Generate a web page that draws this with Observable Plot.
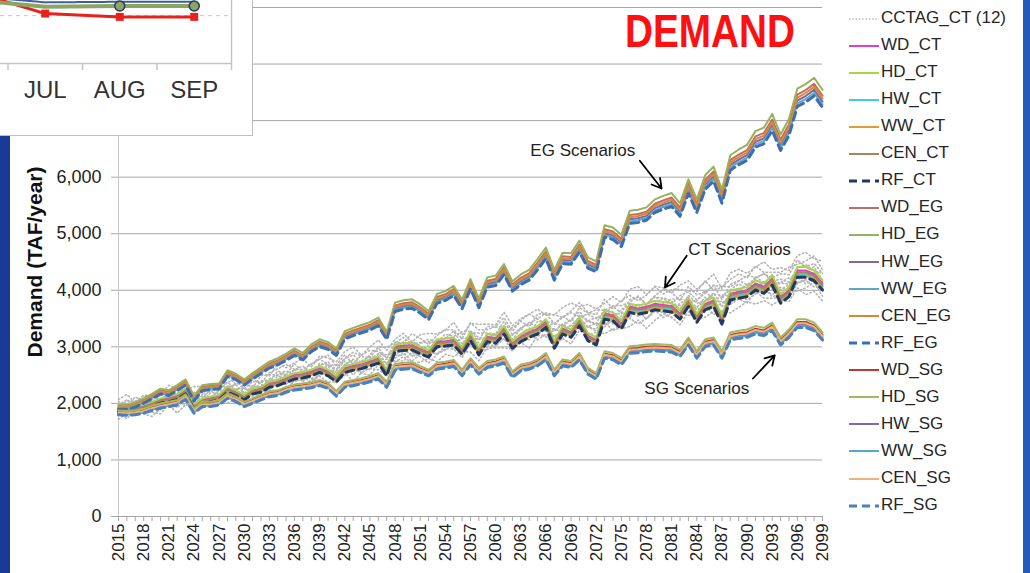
<!DOCTYPE html>
<html><head><meta charset="utf-8">
<script src="https://cdn.jsdelivr.net/npm/d3@7"></script>
<script src="https://cdn.jsdelivr.net/npm/@observablehq/plot@0.6"></script>
<style>
html,body{margin:0;padding:0;background:#fff;}
#wrap{position:relative;width:1030px;height:573px;overflow:hidden;background:#fff;font-family:Arial,"Liberation Sans",sans-serif;}
#wrap svg{font-family:Arial,"Liberation Sans",sans-serif;}
.abs{position:absolute;}
.lg{position:absolute;left:848px;height:20px;line-height:20px;font-size:17px;color:#262626;white-space:nowrap;}
.lg svg{vertical-align:middle;margin-right:1px;}
</style></head><body><div id="wrap"></div><script>
// ---------- data ----------
const years = d3.range(2015, 2100);
const labelYears = d3.range(2015, 2100, 3);
const yGrid = d3.range(0, 10000, 1000);
const yLabels = d3.range(0, 7000, 1000);

const egBase = [1950,1950,1990,2060,2140,2230,2200,2290,2390,2100,
 2290,2310,2320,2550,2490,2390,2500,2600,2700,2760,
 2840,2930,2850,3000,3090,3040,2930,3230,3290,3340,
 3390,3470,3220,3730,3770,3790,3700,3580,3880,3930,
 4020,3780,4140,3800,4170,4200,4400,4100,4220,4300,
 4490,4690,4300,4600,4590,4810,4520,4450,5080,5040,
 4910,5330,5350,5390,5530,5590,5640,5460,5880,5530,
 5950,6100,5700,6300,6400,6480,6720,6780,7020,6660,
 6930,7460,7540,7650,7440];
const ctBase = [1900,1880,1910,1950,2000,2060,2090,2130,2230,1950,
 2060,2090,2120,2260,2200,2120,2230,2260,2350,2380,
 2440,2500,2520,2560,2620,2560,2450,2620,2660,2690,
 2740,2790,2560,3000,3020,3030,2960,2900,3090,3100,
 3120,2950,3200,2940,3180,3150,3320,3060,3180,3260,
 3320,3440,3060,3320,3260,3470,3200,3120,3590,3560,
 3410,3710,3680,3710,3760,3740,3720,3590,3820,3530,
 3760,3820,3500,3940,3970,4000,4120,4060,4210,3880,
 4000,4350,4350,4290,4120];
const sgBase = [1850,1840,1850,1880,1930,1970,2000,2030,2130,1880,
 2000,2000,2030,2150,2090,2000,2060,2120,2180,2200,
 2260,2300,2320,2340,2380,2330,2190,2350,2380,2410,
 2450,2500,2350,2660,2680,2690,2620,2560,2680,2700,
 2730,2560,2760,2590,2710,2740,2790,2530,2650,2680,
 2740,2850,2560,2740,2710,2850,2590,2500,2880,2850,
 2760,2970,2980,3000,3010,3000,2990,2910,3120,2880,
 3090,3120,2880,3210,3240,3260,3320,3290,3380,3120,
 3260,3440,3440,3380,3210];
const cctagTrend = [1900,1920,1940,1970,2000,2040,2070,2100,2150,2080,
 2120,2160,2190,2260,2260,2250,2300,2340,2390,2420,
 2460,2510,2540,2570,2620,2620,2590,2660,2700,2730,
 2770,2820,2780,2930,2960,2980,2970,2960,3050,3080,
 3110,3060,3160,3110,3180,3200,3280,3220,3270,3310,
 3360,3430,3330,3420,3430,3500,3440,3430,3590,3600,
 3570,3690,3700,3730,3770,3780,3790,3760,3860,3790,
 3870,3910,3830,3990,4020,4050,4120,4110,4180,4080,
 4130,4280,4300,4290,4220];
const cctagScale = [0.92,0.94,0.955,0.965,0.975,0.985,0.995,1.005,1.02,1.035,1.05,1.07];
const cctagJitterA = [2,-1,3,0,-2,1,2,-3,0,1,-1,3,2,-2,0,1,-3,2,1,0,-1,3,-2,1,2,-1,0,3,-3,1,2,0,-2,1,3,-1,0,2,-2,1,-1,3,0,-3,2,1,-1,0,2,-2,3,1,-1,0,-3,2,1,3,-2,0,1,-1,2,-3,0,3,1,-2,2,0,-1,1,3,-2,0,2,-1,1,-3,2,0,3,-1,1,-2];
const cctagJitterB = [-2,1,0,2,-1,-3,1,2,3,-1,0,-2,1,3,-1,2,0,-3,1,2,3,-1,-2,0,1,3,-2,0,2,-1,-3,1,2,0,-1,3,1,-2,0,2,1,-2,3,1,-1,0,2,-3,1,3,-1,0,2,-2,1,3,0,-1,2,-3,2,1,-2,0,3,-1,1,2,-2,0,3,-3,1,0,2,-1,3,0,-2,1,2,-1,0,3,-2];
const cctagJitterC = [1,3,-2,1,0,-1,3,0,-2,2,1,-3,0,2,3,-1,1,0,-2,3,0,1,2,-3,1,0,-1,2,3,-2,1,3,-1,0,2,-3,1,2,-1,0,3,-2,1,2,0,-1,3,-2,0,1,2,-3,0,1,3,-1,2,0,-2,1,-1,2,3,-2,1,0,-3,2,1,-1,0,3,-2,1,2,-1,0,3,-3,1,-2,1,2,-1,0];
const cctagJitters = [cctagJitterA, cctagJitterB, cctagJitterC];

const scenarios = ["WD","HD","HW","WW","CEN","RF"];
const scenarioFactor = [1.0, 1.014, 0.986, 0.979, 0.993, 0.972];
const ctColors = ["#e23fcc","#a6d646","#3ccfe0","#e39a3a","#a9835a","#1f3a64"];
const egColors = ["#c46a60","#95b35c","#7e68a3","#5ba9c9","#d8883a","#3d6db3"];
const sgColors = ["#b43a36","#a2b763","#8566a3","#52a9c9","#f1b275","#4a7fc2"];

const annLabels = ["EG Scenarios","CT Scenarios","SG Scenarios"];
const annYear = [2070.4, 2089.1, 2084.0];
const annValue = [6470, 4720, 2260];
const arrowYear1 = [2077.2, 2082.8, 2090.7];
const arrowValue1 = [6290, 4610, 2440];
const arrowYear2 = [2079.8, 2080.2, 2093.3];
const arrowValue2 = [5800, 4050, 2850];

const insetMonths = ["JUN","JUL","AUG","SEP"];
const insetIdx = [0,1,2,3];
const insetRed = [106, 91.7, 89.6, 89.6];
const insetOlive = [100.5, 96.0, 96.5, 96.5];
const insetNavy = [103, 98.8, 99.2, 99.2];
const insetGridValue = 90.4;

// ---------- build ----------
const wrap = document.getElementById("wrap");
const groups = [
  {code:"CT", base: ctBase, colors: ctColors},
  {code:"EG", base: egBase, colors: egColors},
  {code:"SG", base: sgBase, colors: sgColors}
];

const lineMarks = [];
cctagScale.forEach((s, k) => {
  const jit = cctagJitters[k % 3];
  const data = years.map((yr, i) => ({year: yr, value: cctagTrend[i] * s + (jit[i] ?? 0) * 35}));
  lineMarks.push(Plot.line(data, {x: "year", y: "value", stroke: "#b4b4b4", strokeWidth: 1.6, strokeDasharray: "1.3,2.6", strokeLinecap: "round"}));
});
groups.forEach(g => {
  scenarios.forEach((sc, j) => {
    const data = years.map((yr, i) => ({year: yr, value: g.base[i] * scenarioFactor[j]}));
    const isRF = sc === "RF";
    lineMarks.push(Plot.line(data, {x: "year", y: "value", stroke: g.colors[j],
      strokeWidth: isRF ? 3 : 2, strokeDasharray: isRF ? "8,5" : null}));
  });
});

const ann = [0,1,2];
const main = Plot.plot({
  width: 1030, height: 573,
  marginLeft: 118, marginRight: 208, marginTop: 7, marginBottom: 57,
  style: {background: "transparent", fontFamily: "Arial, 'Liberation Sans', sans-serif", fontSize: "17px", color: "#222"},
  x: {type: "linear", domain: [2015, 2099]},
  y: {domain: [0, 9000]},
  marks: [
    Plot.ruleY(yGrid, {stroke: "#a6a6a6", strokeWidth: 1}),
    Plot.ruleX([2015], {stroke: "#c8c8c8"}),
    Plot.axisY(yLabels, {tickSize: 7, tickPadding: 10, fontSize: 18, tickFormat: d3.format(","), stroke: "#a6a6a6", fill: "#222", label: null}),
    Plot.axisX(years, {tickSize: 5, tickPadding: 2, tickRotate: -90, fontSize: 17, stroke: "#a6a6a6", fill: "#222",
      tickFormat: d => labelYears.includes(d) ? String(d) : "", label: null}),
    ...lineMarks,
    Plot.text(["Demand (TAF/year)"], {frameAnchor: "left", textAnchor: "middle", dx: -83, rotate: -90, text: d => d, fontWeight: "bold", fontSize: 21, fill: "#111"}),
    Plot.text(ann, {x: i => annYear[i], y: i => annValue[i], text: i => annLabels[i], fontSize: 17, fill: "#222"}),
    Plot.arrow(ann, {x1: i => arrowYear1[i], y1: i => arrowValue1[i], x2: i => arrowYear2[i], y2: i => arrowValue2[i], stroke: "#000", strokeWidth: 1.8, headLength: 9})
  ]
});
main.style.position = "absolute"; main.style.left = "0"; main.style.top = "0";
wrap.appendChild(main);

// side strips
const ls = document.createElement("div"); ls.className = "abs";
Object.assign(ls.style, {left: "0", top: "0", width: "10px", height: "573px", background: "#183b97"});
wrap.appendChild(ls);
const rs = document.createElement("div"); rs.className = "abs";
Object.assign(rs.style, {left: "1023px", top: "0", width: "7px", height: "573px", background: "#1f5cbc"});
wrap.appendChild(rs);

// inset (cropped monthly chart)
const insetBox = document.createElement("div"); insetBox.className = "abs";
Object.assign(insetBox.style, {left: "0", top: "0", width: "252px", height: "135px", background: "#fff",
  borderRight: "1px solid #bdbdbd", borderBottom: "1px solid #bdbdbd", overflow: "hidden"});
const inset = Plot.plot({
  width: 252, height: 135, marginLeft: 7.5, marginRight: 21, marginTop: 0, marginBottom: 72,
  style: {background: "#fff", fontFamily: "Arial, 'Liberation Sans', sans-serif"},
  x: {domain: [0.5, 3.5]}, y: {domain: [60, 100], axis: null},
  marks: [
    Plot.ruleY([insetGridValue], {x1: 0.4, x2: 3.5, stroke: "#c8c8c8", strokeDasharray: "4,4"}),
    Plot.ruleY([60], {x1: 0.4, x2: 3.5, stroke: "#c4c4c4", strokeWidth: 1.5}),
    Plot.ruleX([3.5], {y1: 60, y2: 110, stroke: "#c4c4c4", strokeWidth: 1.5}),
    Plot.ruleX([0.5, 1.5, 2.5, 3.5], {y1: 60, y2: 55.5, stroke: "#c4c4c4", strokeWidth: 1.5}),
    Plot.axisX([1, 2, 3], {tickSize: 0, tickPadding: 17, fontSize: 24, fill: "#333", tickFormat: i => insetMonths[i], label: null}),
    Plot.line(insetIdx, {x: i => i, y: i => insetRed[i], stroke: "#e8211b", strokeWidth: 3}),
    Plot.line(insetIdx, {x: i => i, y: i => insetOlive[i], stroke: "#8ea561", strokeWidth: 4}),
    Plot.line(insetIdx, {x: i => i, y: i => insetNavy[i], stroke: "#3d5f99", strokeWidth: 2, strokeDasharray: "2,1"}),
    Plot.dot([1, 2, 3], {x: i => i, y: i => insetRed[i], symbol: "square", r: 4.5, fill: "#e8211b"}),
    Plot.dot([2, 3], {x: i => i, y: i => insetOlive[i], r: 5, fill: "#8ea561", stroke: "#1f3a64", strokeWidth: 1.5})
  ]
});
insetBox.appendChild(inset);
wrap.appendChild(insetBox);

// title
const tNS = "http://www.w3.org/2000/svg";
const tsvg = document.createElementNS(tNS, "svg");
tsvg.setAttribute("width", "200"); tsvg.setAttribute("height", "60");
Object.assign(tsvg.style, {position: "absolute", left: "615px", top: "3px", overflow: "visible"});
const tt = document.createElementNS(tNS, "text");
tt.setAttribute("x", "10"); tt.setAttribute("y", "44");
tt.setAttribute("textLength", "170"); tt.setAttribute("lengthAdjust", "spacingAndGlyphs");
tt.setAttribute("font-size", "47"); tt.setAttribute("font-weight", "bold"); tt.setAttribute("fill", "#ff1010");
tt.setAttribute("font-family", "'Liberation Sans Narrow', 'Arial Narrow', Arial, 'Liberation Sans', sans-serif");
tt.textContent = "DEMAND";
tsvg.appendChild(tt);
wrap.appendChild(tsvg);

// legend
const legendItems = [{name: "CCTAG_CT (12)", color: "#b4b4b4", kind: "dot"}];
groups.forEach(g => scenarios.forEach((sc, j) => legendItems.push({name: sc + "_" + g.code, color: g.colors[j], kind: sc === "RF" ? "dash" : "solid"})));
legendItems.forEach((it, i) => {
  const row = document.createElement("div"); row.className = "lg";
  row.style.top = (8 + i * 27.06) + "px";
  let stroke = `stroke="${it.color}" stroke-width="2"`;
  if (it.kind === "dot") stroke = `stroke="${it.color}" stroke-width="1.5" stroke-dasharray="1.3,2"`;
  if (it.kind === "dash") stroke = `stroke="${it.color}" stroke-width="3" stroke-dasharray="8,5"`;
  row.innerHTML = `<svg width="32" height="10"><line x1="1" x2="31" y1="5" y2="5" ${stroke}/></svg>${it.name}`;
  wrap.appendChild(row);
});
</script></body></html>
